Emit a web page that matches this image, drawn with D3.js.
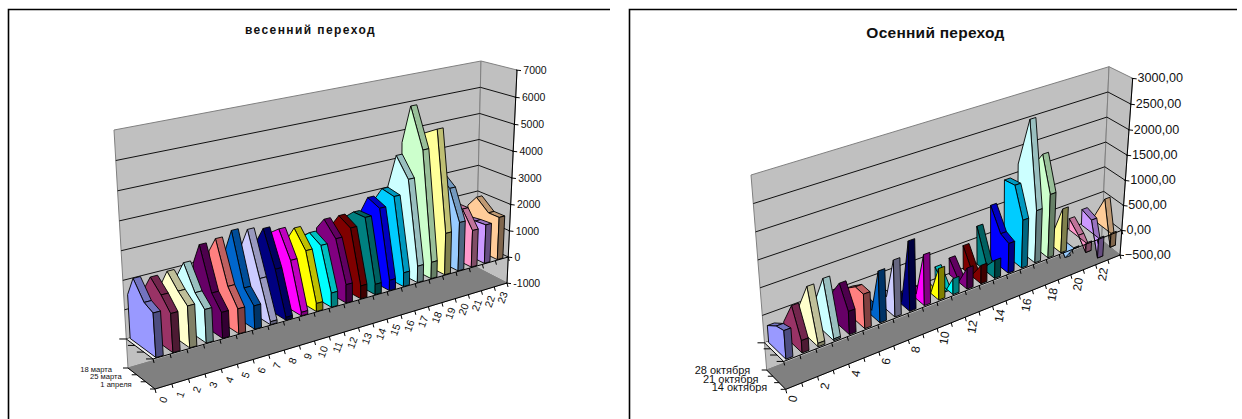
<!DOCTYPE html>
<html><head><meta charset="utf-8">
<script src="https://cdn.jsdelivr.net/npm/d3@7/dist/d3.min.js"></script>
<style>html,body{margin:0;padding:0;background:#fff}svg{display:block}text{font-family:"Liberation Sans",Arial,sans-serif;fill:#111}</style>
</head><body><svg id="c" width="1242" height="419"></svg>
<script>
const seriesColors=["#9999FF","#993366","#FFFFCC","#CCFFFF","#660066","#FF8080","#0066CC","#CCCCFF","#000080","#FF00FF","#FFFF00","#00FFFF","#800080","#800000","#008080","#0000FF","#00CCFF","#CCFFFF","#CCFFCC","#FFFF99","#99CCFF","#FF99CC","#CC99FF","#FFCC99"];
const hours=d3.range(24);
const springDates=["18 марта","25 марта","1 апреля"];
const autumnDates=["28 октября","21 октября","14 октября"];
const springTicks=[-1000,0,1000,2000,3000,4000,5000,6000,7000];
const autumnTicks=[-500,0,500,1000,1500,2000,2500,3000];
const springValues=[
[1500,2200,1620,1470],[1570,2100,1720,1300],[1560,2150,1700,1400],[1730,2300,1500,1130],
[2000,2780,1340,880],[2280,2850,1420,850],[2150,3000,1220,800],[2150,2900,1400,100],
[2200,2800,1580,100],[2400,2650,1750,120],[2000,2550,1950,280],[1950,2250,2000,500],
[2150,2600,2100,650],[2100,2600,2350,460],[2300,2600,2600,370],[2300,3000,2800,370],
[2650,3200,3100,500],[3050,4300,3600,600],[4550,6000,4550,600],[4500,4900,5200,1530],
[3000,3300,2900,1800],[1900,2000,2000,1370],[1300,1350,1420,1450],[1560,2000,1600,1600]];
const autumnValues=[
[310,460,510],[270,720,220],[450,960,60],[430,1000,30],[450,810,420],[460,640,630],
[150,100,950],[200,250,1050],[100,50,1300],[100,90,950],[50,0,590],[250,-80,300],
[320,20,400],[460,60,350],[740,120,350],[1050,640,570],[1450,1480,920],[1670,2650,1010],
[1500,1900,1230],[200,300,860],[0,-320,-20],[220,30,-190],[310,240,-400],[70,570,-280]];

const charts=[
{title:"весенний переход",titleX:310.5,titleY:34,titleSize:12,titleSpacing:1.4,
 frame:[8.5,9.5,610],values:springValues,ticks:springTicks,dates:springDates,
 stops:[0.02,0.28,0.66,0.98],dateD:[0,0.37,0.74],dateSize:7.6,dateOff:-16,labelDx:6.3,
 tickFmt:d=>String(d),tickSize:10.5,hourSize:10.5,hourStep:1,hourRot:-70,hourOff:[8.3,10.7],
 c:{BLb:[128,368],BLt:[114,130],BRb:[476,267],BRt:[481,61],FLb:[155,389],FLt:[139,142],FRb:[507,283],FRt:[517,70]}},
{title:"Осенний переход",titleX:935.5,titleY:38,titleSize:15.5,titleSpacing:0.25,
 frame:[629.5,9.5,1237],values:autumnValues,ticks:autumnTicks,dates:autumnDates,
 stops:[0.05,0.55,0.95],dateD:[0.03,0.48,0.93],dateSize:11,dateOff:-17,labelDx:4.8,
 tickFmt:d=>d3.format(".2f")(d).replace(".",","),tickSize:12.6,hourSize:12,hourStep:2,hourRot:-80,hourOff:[7,9.5],
 c:{BLb:[766.7,370],BLt:[751,175],BRb:[1101.7,240],BRt:[1109,66.7],FLb:[785.7,389.3],FLt:[771,189],FRb:[1120,255],FRt:[1132.7,78.3]}}
];
const svg=d3.select("#c");
charts.forEach(ch=>{
  const g=svg.append("g");
  const [fx,fy,fr]=ch.frame;
  g.append("path").attr("d",`M${fx},419V${fy}H${fr}`).attr("fill","none").attr("stroke","#000").attr("stroke-width",1.6);
  g.append("text").attr("x",ch.titleX).attr("y",ch.titleY).attr("text-anchor","middle").attr("font-weight","bold").attr("font-size",ch.titleSize).attr("letter-spacing",ch.titleSpacing).text(ch.title);
  const uS=d3.scaleLinear().domain([0,24]).range([0,1]);
  const tS=d3.scaleLinear().domain(d3.extent(ch.ticks)).range([0,1]);
  const c=ch.c;
  const W=(u,d,t)=>1+0.16*u+0.05*(1-d)-0.03*t;
  function P(h,d,v){
    const u=uS(h),t=tS(v);
    const list=[[c.BLb,0,0,0],[c.BLt,0,0,1],[c.BRb,1,0,0],[c.BRt,1,0,1],[c.FLb,0,1,0],[c.FLt,0,1,1],[c.FRb,1,1,0],[c.FRt,1,1,1]];
    let X=0,Y=0,S=0;
    list.forEach(([p,a,b,e])=>{
      const k=(a?u:1-u)*(b?d:1-d)*(e?t:1-t)*W(a,b,e);
      X+=k*p[0];Y+=k*p[1];S+=k;
    });
    return [X/S,Y/S];
  }
  const path=pts=>"M"+pts.map(p=>p[0].toFixed(2)+","+p[1].toFixed(2)).join("L")+"Z";
  const lineP=(a,b,col,w)=>g.append("line").attr("x1",a[0]).attr("y1",a[1]).attr("x2",b[0]).attr("y2",b[1]).attr("stroke",col).attr("stroke-width",w||1);
  const vMin=ch.ticks[0],vMax=ch.ticks[ch.ticks.length-1];
  const wall=pts=>g.append("path").attr("d",path(pts)).attr("fill","#C0C0C0").attr("stroke","#808080").attr("stroke-width",1);
  wall([P(0,0,vMin),P(0,0,vMax),P(24,0,vMax),P(24,0,vMin)]);
  wall([P(24,0,vMin),P(24,0,vMax),P(24,1,vMax),P(24,1,vMin)]);
  ch.ticks.slice(1,-1).forEach(v=>{
    lineP(P(0,0,v),P(24,0,v),"#111",1);
    lineP(P(24,0,v),P(24,1,v),"#111",1);
  });
  g.append("path").attr("d",path([P(0,0,vMin),P(24,0,vMin),P(24,1,vMin),P(0,1,vMin)])).attr("fill","#808080").attr("stroke","#808080");
  const first=0.2,last=0.63;
  g.append("path").attr("d",path([P(0,0,0),P(first,0,0),P(first,1,0),P(0,1,0)])).attr("fill","#ececec");
  lineP(P(0,0,0),P(0,1,0),"#000",1);
  d3.range(4).forEach(k=>{const p=P(0,k/3,0);lineP(p,[p[0]-7,p[1]],"#000",1);});
  lineP(P(0,0,vMin),P(0,1,vMin),"#000",1);
  lineP(P(0,1,vMin),P(24,1,vMin),"#000",1);
  d3.range(4).forEach(k=>{const p=P(0,k/3,vMin);lineP(p,[p[0]-5,p[1]],"#000",1);});
  d3.range(25).forEach(i=>{const p=P(i,1,vMin);lineP(p,[p[0]+1,p[1]+4],"#000",1);});
  lineP(P(24,1,vMin),P(24,1,vMax),"#000",1);
  ch.ticks.forEach(v=>{
    const p=P(24,1,v);
    lineP([p[0]-1,p[1]],[p[0]+4,p[1]+0.6],"#000",1);
    g.append("text").attr("x",p[0]+ch.labelDx).attr("y",p[1]+3.8).attr("font-size",ch.tickSize).text(ch.tickFmt(v));
  });
  const n=ch.stops.length;
  for(let i=23;i>=0;i--){
    const vals=ch.values[i],col=d3.color(seriesColors[i]);
    const a=i+first,b=i+last;
    const shade=k=>{const q=col.rgb();return d3.rgb(q.r*k,q.g*k,q.b*k).formatHex();};
    const rg=g.append("g").attr("stroke","#000").attr("stroke-width",0.9).attr("stroke-linejoin","round");
    for(let j=0;j<n-1;j++){
      const q=[P(a,ch.stops[j],vals[j]),P(b,ch.stops[j],vals[j]),P(b,ch.stops[j+1],vals[j+1]),P(a,ch.stops[j+1],vals[j+1])];
      if(d3.polygonArea(q)<0) rg.append("path").attr("d",path(q)).attr("fill",shade(0.75));
    }
    const face=[P(a,ch.stops[0],0)];
    ch.stops.forEach((s,j)=>face.push(P(a,s,vals[j])));
    face.push(P(a,ch.stops[n-1],0));
    rg.append("path").attr("d",path(face)).attr("fill",col.formatHex());
    const e=ch.stops[n-1];
    rg.append("path").attr("d",path([P(a,e,0),P(a,e,vals[n-1]),P(b,e,vals[n-1]),P(b,e,0)])).attr("fill",shade(0.5));
  }
  lineP(P(0,1,0),P(24,1,0),"#000",1);
  d3.range(25).forEach(i=>{const p=P(i,1,0);lineP(p,[p[0]+1,p[1]+4],"#000",1);});
  hours.filter(h=>h%ch.hourStep===0).forEach(h=>{
    const p=P(h,1,vMin),x=p[0]+ch.hourOff[0],y=p[1]+ch.hourOff[1];
    g.append("text").attr("transform",`translate(${x},${y}) rotate(${ch.hourRot})`).attr("text-anchor","middle").attr("dy","0.35em").attr("font-size",ch.hourSize).text(h);
  });
  ch.dates.forEach((t,k)=>{
    const p=P(0,ch.dateD[k],vMin);
    g.append("text").attr("x",p[0]+ch.dateOff).attr("y",p[1]+3.6).attr("text-anchor","end").attr("font-size",ch.dateSize).text(t);
  });
});
</script></body></html>
